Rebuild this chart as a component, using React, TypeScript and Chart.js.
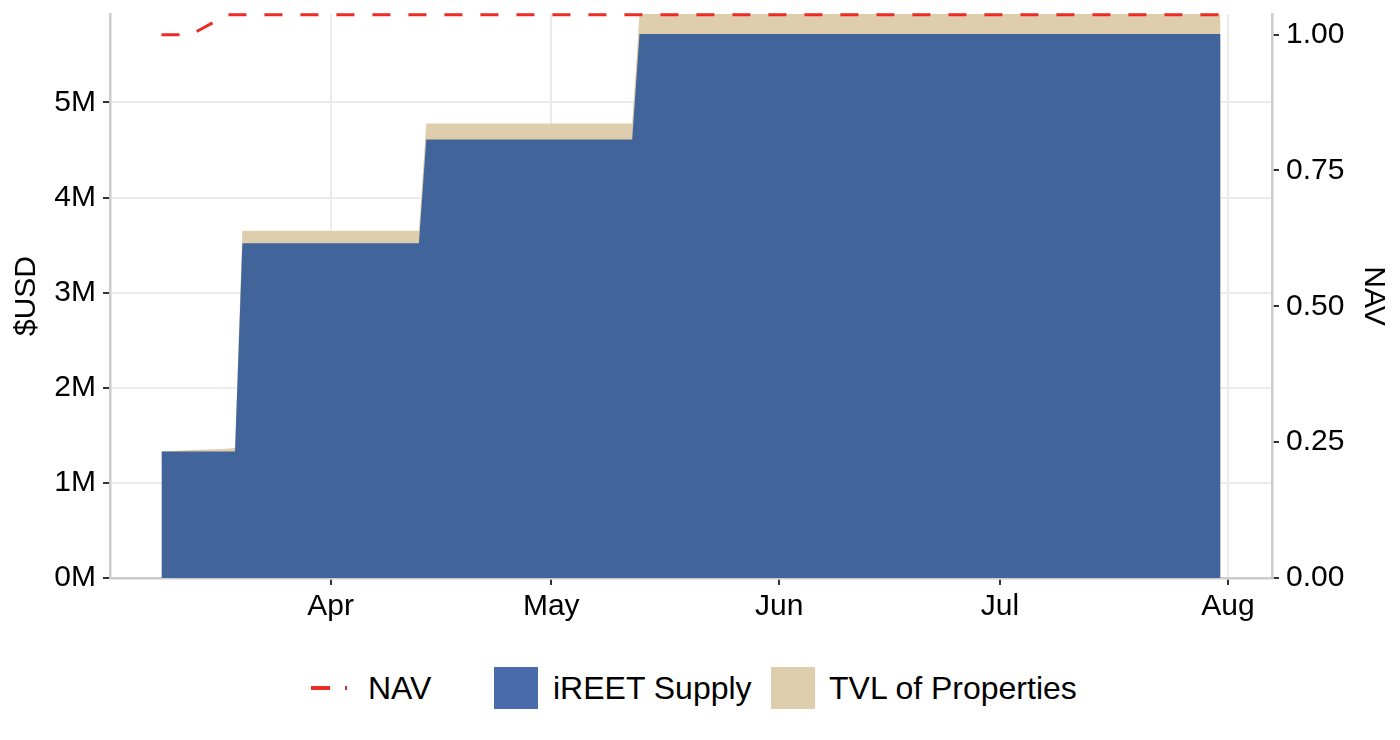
import React, { useEffect, useRef } from 'react';
import { Chart, registerables } from 'chart.js';

Chart.register(...registerables);

// day number (days since Jan 1) for a month/day pair
const day = (m: number, d: number) => (Date.UTC(2023, m - 1, d) - Date.UTC(2023, 0, 1)) / 864e5;

// observation dates as [month, day]
const DATES: [number, number][] = [
  [3, 9], [3, 13], [3, 18], [3, 19], [3, 20],
  [4, 13], [4, 14], [5, 12], [5, 13], [7, 31],
];
// values in millions of USD
const SUPPLY = [1.33, 1.33, 1.33, 1.33, 3.52, 3.52, 4.61, 4.61, 5.72, 5.72];
const TVL = [1.33, 1.345, 1.36, 1.37, 3.65, 3.65, 4.78, 4.78, 5.93, 5.93];
const NAV = [1.0, 1.0, 1.0367, 1.0367, 1.0367, 1.0367, 1.0367, 1.0367, 1.0367, 1.0367];

const MONTH_TICKS: [number, number][] = [[4, 1], [5, 1], [6, 1], [7, 1], [8, 1]];
const MONTH_LABELS = ['Apr', 'May', 'Jun', 'Jul', 'Aug'];
const USD_TICKS = [0, 1, 2, 3, 4, 5];
const NAV_TICKS = [0, 0.25, 0.5, 0.75, 1.0];

const BLUE = '#41649a';
const TAN = '#decead';
const RED = '#ee2a24';
const FONT = "'Liberation Sans', Arial, Helvetica, sans-serif";

const App: React.FC = () => {
  const chartRef = useRef<HTMLCanvasElement>(null);
  const chartInstance = useRef<Chart | null>(null);

  useEffect(() => {
    document.body.style.margin = '0';
    if (!chartRef.current) return;
    if (chartInstance.current) chartInstance.current.destroy();

    const xs = DATES.map(([m, d]) => day(m, d));
    const pts = (vals: number[]) => vals.map((v, i) => ({ x: xs[i], y: v }));

    Chart.defaults.font.family = FONT;
    Chart.defaults.color = '#000';

    // keep the plot area where the reference has it
    const noPad = (scale: any) => {
      scale.paddingTop = 0;
      scale.paddingBottom = 0;
      scale.paddingLeft = 0;
      scale.paddingRight = 0;
    };

    chartInstance.current = new Chart(chartRef.current, {
      type: 'line',
      data: {
        datasets: [
          {
            label: 'NAV',
            data: pts(NAV),
            yAxisID: 'y2',
            borderColor: RED,
            borderWidth: 3,
            borderDash: [18, 18],
            pointRadius: 0,
            fill: false,
            clip: false as any,
          },
          {
            label: 'iREET Supply',
            data: pts(SUPPLY),
            yAxisID: 'y',
            borderWidth: 0,
            pointRadius: 0,
            backgroundColor: BLUE,
            fill: 'origin',
          },
          {
            label: 'TVL of Properties',
            data: pts(TVL),
            yAxisID: 'y',
            borderWidth: 0,
            pointRadius: 0,
            backgroundColor: TAN,
            fill: 'origin',
          },
        ],
      },
      options: {
        animation: false,
        responsive: false,
        maintainAspectRatio: false,
        layout: { padding: { top: 14, left: 0, right: 0, bottom: 0 } },
        plugins: { legend: { display: false }, tooltip: { enabled: false } },
        scales: {
          x: {
            type: 'linear',
            min: day(3, 2),
            max: day(8, 7),
            afterBuildTicks: (scale: any) => {
              scale.ticks = MONTH_TICKS.map(([m, d]) => ({ value: day(m, d) }));
            },
            afterFit: (scale: any) => {
              scale.height = 72;
              noPad(scale);
            },
            ticks: {
              callback: (_v: any, i: number) => MONTH_LABELS[i],
              font: { size: 30 },
              color: '#000',
              padding: 4,
              maxRotation: 0,
            },
            grid: { color: '#ebebeb', lineWidth: 2, tickColor: '#333', tickLength: 7 },
            border: { color: '#cccccc', width: 2.5 },
          },
          y: {
            position: 'left',
            min: 0,
            max: 5.93,
            afterBuildTicks: (scale: any) => {
              scale.ticks = USD_TICKS.map((v) => ({ value: v }));
            },
            afterFit: (scale: any) => {
              scale.width = 110;
              noPad(scale);
            },
            ticks: {
              callback: (v: any) => `${v}M`,
              font: { size: 30 },
              color: '#000',
              padding: 7,
            },
            title: { display: true, text: '$USD', font: { size: 30 }, color: '#000', padding: { top: 9, bottom: 0 } },
            grid: { color: '#ebebeb', lineWidth: 2, tickColor: '#333', tickLength: 7 },
            border: { color: '#cccccc', width: 2.5 },
          },
          y2: {
            position: 'right',
            min: 0,
            max: 1.038,
            afterBuildTicks: (scale: any) => {
              scale.ticks = NAV_TICKS.map((v) => ({ value: v }));
            },
            afterFit: (scale: any) => {
              scale.width = 128;
              noPad(scale);
            },
            ticks: {
              callback: (v: any) => Number(v).toFixed(2),
              font: { size: 30 },
              color: '#000',
              padding: 7,
            },
            title: { display: true, text: 'NAV', font: { size: 30 }, color: '#000', padding: { top: 9, bottom: 0 } },
            grid: { drawOnChartArea: false, tickColor: '#333', tickLength: 7, lineWidth: 2 },
            border: { color: '#cccccc', width: 2.5 },
          },
        },
      } as any,
    });

    return () => {
      if (chartInstance.current) {
        chartInstance.current.destroy();
        chartInstance.current = null;
      }
    };
  }, []);

  const text: React.CSSProperties = {
    position: 'absolute',
    top: 667,
    lineHeight: '42px',
    fontSize: 32,
    color: '#000',
    whiteSpace: 'nowrap',
  };
  const box = (left: number, color: string): React.CSSProperties => ({
    position: 'absolute',
    left,
    top: 667,
    width: 44,
    height: 42,
    background: color,
  });

  return (
    <div style={{ position: 'relative', width: 1400, height: 740, fontFamily: FONT, background: '#fff' }}>
      <canvas ref={chartRef} width={1400} height={650} style={{ display: 'block' }}></canvas>
      <svg style={{ position: 'absolute', left: 311, top: 667 }} width={36} height={42}>
        <line x1={0} y1={21} x2={36} y2={21} stroke={RED} strokeWidth={4} strokeDasharray="19 15" />
      </svg>
      <span style={{ ...text, left: 368 }}>NAV</span>
      <div style={box(494, '#4a6bab')}></div>
      <span style={{ ...text, left: 553 }}>iREET Supply</span>
      <div style={box(771, TAN)}></div>
      <span style={{ ...text, left: 829 }}>TVL of Properties</span>
    </div>
  );
};

export default App;
